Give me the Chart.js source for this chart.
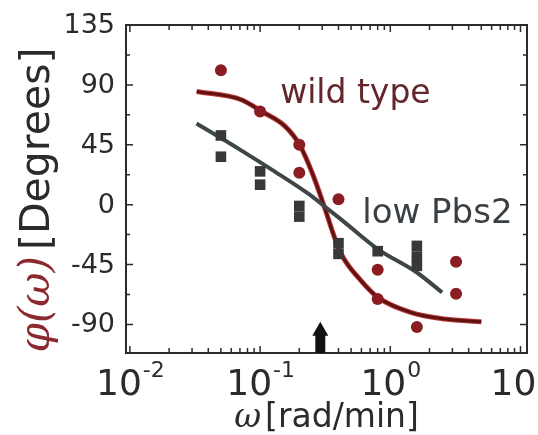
<!DOCTYPE html>
<html>
<head>
<meta charset="utf-8">
<script src="https://cdn.jsdelivr.net/npm/chart.js@4.4.1/dist/chart.umd.min.js"></script>
<style>
    body { margin: 0; background: #fff; }
    #wrap { width: 538px; height: 435px; }
</style>
</head>
<body>
<div id="wrap"><canvas id="phaseChart" width="538" height="435"></canvas></div>
<script>
    // measured phase points
    const wtFreq = [0.05, 0.1, 0.2, 0.2, 0.4, 0.8, 0.8, 1.6, 3.2, 3.2];
    const wtPhase = [101, 70, 45, 24, 4, -49, -71, -92, -43, -67];
    const lowFreq = [0.05, 0.05, 0.1, 0.1, 0.2, 0.2, 0.4, 0.4, 0.8, 1.6, 1.6, 1.6];
    const lowPhase = [52, 36, 25, 15, -1, -9, -29, -37, -35, -31, -39, -46];

    // fitted curves
    const wtFitFreq = [0.0326, 0.071, 0.103, 0.155, 0.201, 0.251, 0.31, 0.371, 0.43, 0.582, 0.787, 1.435, 2.62, 5.0];
    const wtFitPhase = [85, 79, 70, 59, 45, 24, -1, -24, -39, -56, -69, -81, -86, -88];
    const lowFitFreq = [0.0325, 0.071, 0.129, 0.236, 0.31, 0.43, 0.79, 1.6, 2.5];
    const lowFitPhase = [61, 41, 25, 8, -1, -12, -33, -51, -66];

    // axes
    const yTicks = [-90, -67.5, -45, -22.5, 0, 22.5, 45, 67.5, 90, 112.5, 135];
    const xMajor = [0.01, 0.1, 1, 10];
    const xExp = ['-2', '-1', '0', '1'];
    const xMinor = [0.02, 0.03, 0.04, 0.05, 0.06, 0.07, 0.08, 0.09,
        0.2, 0.3, 0.4, 0.5, 0.6, 0.7, 0.8, 0.9,
        2, 3, 4, 5, 6, 7, 8, 9];

    // arrow marker (freq, tip phase) and curve labels
    const arrowFreq = 0.29;
    const arrowTip = -88;
    const curveNames = ['wild type', 'low Pbs2'];
    const curveNameFreq = [0.1426, 0.609];
    const curveNamePhase = [76.5, -13.5];

    const pts = (xs, ys) => xs.map((v, i) => ({ x: v, y: ys[i] }));

    Chart.defaults.font.family = '"DejaVu Sans"';

    const axesBox = {
        id: 'axesBox',
        afterDraw(chart) {
            const { ctx, chartArea: a, scales: { x, y } } = chart;
            ctx.save();

            // frame + inward ticks
            ctx.strokeStyle = '#2b2b2b';
            ctx.lineWidth = 2;
            ctx.strokeRect(a.left, a.top, a.right - a.left, a.bottom - a.top);
            ctx.lineWidth = 1.5;
            ctx.beginPath();
            yTicks.forEach(v => {
                const py = y.getPixelForValue(v);
                const len = v % 45 === 0 ? 7 : 4;
                ctx.moveTo(a.left, py); ctx.lineTo(a.left + len, py);
                ctx.moveTo(a.right, py); ctx.lineTo(a.right - len, py);
            });
            xMajor.concat(xMinor).forEach(v => {
                const px = x.getPixelForValue(v);
                const len = xMajor.includes(v) ? 7 : 5;
                ctx.moveTo(px, a.bottom); ctx.lineTo(px, a.bottom - len);
                ctx.moveTo(px, a.top); ctx.lineTo(px, a.top + len);
            });
            ctx.stroke();

            // arrow
            const ax = x.getPixelForValue(arrowFreq);
            const tip = y.getPixelForValue(arrowTip);
            ctx.fillStyle = '#111';
            ctx.beginPath();
            ctx.moveTo(ax, tip);
            ctx.lineTo(ax + 8, tip + 14);
            ctx.lineTo(ax + 5, tip + 14);
            ctx.lineTo(ax + 5, a.bottom);
            ctx.lineTo(ax - 5, a.bottom);
            ctx.lineTo(ax - 5, tip + 14);
            ctx.lineTo(ax - 8, tip + 14);
            ctx.closePath();
            ctx.fill();

            // y tick labels
            ctx.fillStyle = '#2b2b2b';
            ctx.font = '27px "DejaVu Sans"';
            ctx.textAlign = 'right';
            ctx.textBaseline = 'middle';
            yTicks.filter(v => v % 45 === 0).forEach(v => {
                ctx.fillText(String(v), a.left - 11, y.getPixelForValue(v) + 1);
            });

            // x tick labels with exponents
            ctx.textAlign = 'left';
            ctx.textBaseline = 'alphabetic';
            xMajor.forEach((v, i) => {
                const px = x.getPixelForValue(v);
                ctx.font = '36px "DejaVu Sans"';
                const wb = ctx.measureText('10').width;
                ctx.font = '22px "DejaVu Sans"';
                const we = ctx.measureText(xExp[i]).width;
                const left = px - (wb + we) / 2;
                ctx.font = '36px "DejaVu Sans"';
                ctx.fillText('10', left, a.bottom + 42);
                ctx.font = '22px "DejaVu Sans"';
                ctx.fillText(xExp[i], left + wb + 1, a.bottom + 24);
            });

            // x title
            ctx.font = 'italic 33px "DejaVu Serif"';
            const wo = ctx.measureText('ω').width;
            ctx.font = '33px "DejaVu Sans"';
            const wr = ctx.measureText('[rad/min]').width;
            let sx = (a.left + a.right) / 2 - (wo + 4 + wr) / 2;
            ctx.font = 'italic 33px "DejaVu Serif"';
            ctx.fillText('ω', sx, a.bottom + 74);
            ctx.font = '33px "DejaVu Sans"';
            ctx.fillText('[rad/min]', sx + wo + 4, a.bottom + 74);

            // y title, two colours
            ctx.save();
            ctx.translate(38, 200);
            ctx.rotate(-Math.PI / 2);
            ctx.textBaseline = 'middle';
            ctx.font = 'italic 42px "DejaVu Serif"';
            const w1 = ctx.measureText('φ(ω)').width;
            ctx.font = '41px "DejaVu Sans"';
            const w2 = ctx.measureText('[Degrees]').width;
            const s0 = -(w1 + 6 + w2) / 2;
            ctx.font = 'italic 42px "DejaVu Serif"';
            ctx.fillStyle = '#8a2a2e';
            ctx.fillText('φ(ω)', s0, 0);
            ctx.font = '41px "DejaVu Sans"';
            ctx.fillStyle = '#2b2b2b';
            ctx.fillText('[Degrees]', s0 + w1 + 6, 0);
            ctx.restore();

            // curve names
            const nameColors = ['#62262b', '#3a3f44'];
            const nameFonts = ['33px "DejaVu Sans"', '34px "DejaVu Sans"'];
            curveNames.forEach((t, i) => {
                ctx.font = nameFonts[i];
                ctx.fillStyle = nameColors[i];
                ctx.fillText(t, x.getPixelForValue(curveNameFreq[i]), y.getPixelForValue(curveNamePhase[i]));
            });

            ctx.restore();
        }
    };

    new Chart(document.getElementById('phaseChart'), {
        type: 'scatter',
        data: {
            datasets: [{
                label: 'wild type fit',
                data: pts(wtFitFreq, wtFitPhase),
                showLine: true,
                borderColor: '#bf3b3b',
                borderWidth: 5,
                pointRadius: 0,
                cubicInterpolationMode: 'monotone',
                order: 4
            }, {
                label: 'wild type fit core',
                data: pts(wtFitFreq, wtFitPhase),
                showLine: true,
                borderColor: '#5e1212',
                borderWidth: 3,
                pointRadius: 0,
                cubicInterpolationMode: 'monotone',
                order: 3
            }, {
                label: 'low Pbs2 fit',
                data: pts(lowFitFreq, lowFitPhase),
                showLine: true,
                borderColor: '#3d4747',
                borderWidth: 4,
                pointRadius: 0,
                cubicInterpolationMode: 'monotone',
                order: 2
            }, {
                label: 'wild type',
                data: pts(wtFreq, wtPhase),
                pointStyle: 'circle',
                pointRadius: 6,
                backgroundColor: '#8a1d22',
                borderWidth: 0,
                order: 1
            }, {
                label: 'low Pbs2',
                data: pts(lowFreq, lowPhase),
                pointStyle: 'rect',
                pointRadius: 7.5,
                backgroundColor: '#383838',
                borderWidth: 0,
                order: 0
            }]
        },
        options: {
            responsive: false,
            animation: false,
            devicePixelRatio: 1,
            layout: { padding: { top: 25, right: 11, left: 0, bottom: 0 } },
            plugins: { legend: { display: false }, tooltip: { enabled: false } },
            scales: {
                x: {
                    type: 'logarithmic',
                    min: Math.pow(10, -2.03),
                    max: Math.pow(10, 1.05),
                    ticks: { display: false },
                    grid: { display: false, drawTicks: false },
                    border: { display: false },
                    afterFit: s => { s.height = 82; s.paddingLeft = 0; s.paddingRight = 0; }
                },
                y: {
                    min: -111.5,
                    max: 135,
                    afterBuildTicks: s => { s.ticks = yTicks.map(v => ({ value: v })); },
                    ticks: { display: false },
                    grid: { display: false, drawTicks: false },
                    border: { display: false },
                    afterFit: s => { s.width = 126; }
                }
            }
        },
        plugins: [axesBox]
    });
</script>
</body>
</html>
